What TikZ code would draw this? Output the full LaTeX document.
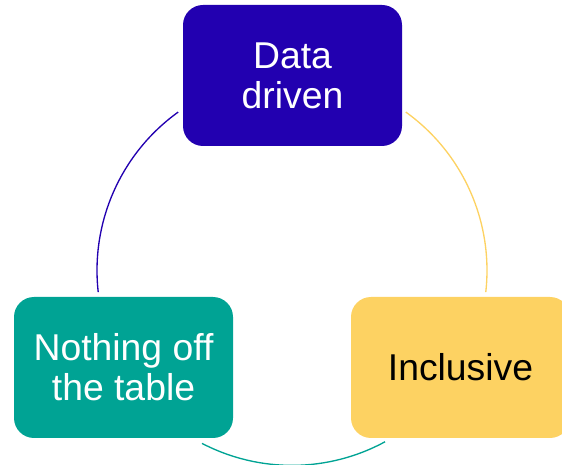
\documentclass[tikz,border=0pt]{standalone}
\usepackage{fontspec}
\setmainfont{Liberation Sans}
\definecolor{drivenblue}{HTML}{2200B0}
\definecolor{tableteal}{HTML}{00A394}
\definecolor{inclyellow}{HTML}{FDD262}
\begin{document}
\begin{tikzpicture}[x=0.75pt, y=0.75pt,
    valuebox/.style={rounded corners=15pt, minimum width=164.25pt, minimum height=105.75pt,
      inner sep=0pt, align=center, font=\fontsize{28}{30}\selectfont}]
        \useasboundingbox (0, 0) rectangle (562, 465);
        \clip (0, 0) rectangle (562, 465);

        \def\rcycle{146.25pt}
        \coordinate (hub) at (292, 194.6);

        \node[valuebox, fill=drivenblue, text=white] (data) at (292.5, 389.5) {Data\\driven};
        \node[valuebox, fill=tableteal, text=white] (table) at (123.5, 97.5) {Nothing off\\the table};
        \node[valuebox, fill=inclyellow, text=black] (incl) at (460.5, 97.5) {Inclusive};

        \draw[drivenblue, line width=1pt] (hub) ++(125.7:\rcycle) arc[start angle=125.7, end angle=186.4, radius=\rcycle];
        \draw[inclyellow, line width=1pt] (hub) ++(54.3:\rcycle) arc[start angle=54.3, end angle=-6.4, radius=\rcycle];
        \draw[tableteal, line width=1pt] (hub) ++(242.5:\rcycle) arc[start angle=242.5, end angle=298.5, radius=\rcycle];
      \end{tikzpicture}
\end{document}
